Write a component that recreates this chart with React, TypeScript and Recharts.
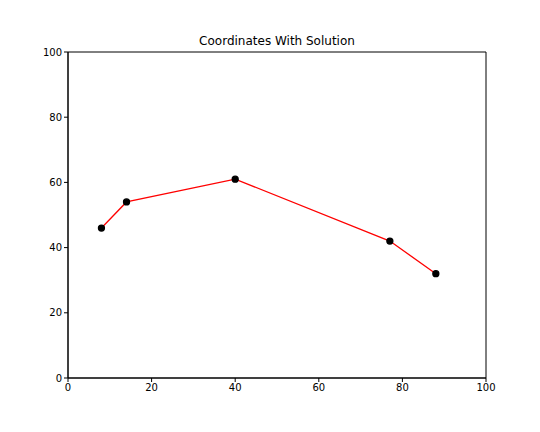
import React from 'react';
import { LineChart, Line, XAxis, YAxis, ReferenceArea } from 'recharts';

const xs = [8, 14, 40, 77, 88];
const ys = [46, 54, 61, 42, 32];
const ticks = [0, 20, 40, 60, 80, 100];

const data = xs.map((x, i) => ({ x, y: ys[i] }));

const font = { fontFamily: 'DejaVu Sans', fontSize: 10, fill: '#000' };

export default function App() {
  return (
    <div style={{ position: 'absolute', left: 0, top: 0, width: 540, height: 432, background: '#fff' }}>
      <div style={{ position: 'absolute', top: 34, left: 68, width: 418, textAlign: 'center', fontFamily: 'DejaVu Sans', fontSize: 12 }}>
        Coordinates With Solution
      </div>
      <LineChart width={540} height={432} data={data} margin={{ top: 52, right: 54, bottom: 24, left: 28 }}>
        <XAxis dataKey="x" type="number" domain={[0, 100]} ticks={ticks} stroke="#000" tickSize={4} tick={font} height={30} />
        <YAxis type="number" domain={[0, 100]} ticks={ticks} stroke="#000" tickSize={4} tick={font} width={40} />
        <ReferenceArea x1={0} x2={100} y1={0} y2={100} fill="none" stroke="#000" strokeWidth={1} ifOverflow="visible" />
        <Line
          dataKey="y"
          stroke="#ff0000"
          strokeWidth={1.3}
          isAnimationActive={false}
          dot={{ r: 3, fill: '#000', stroke: '#000' }}
        />
      </LineChart>
    </div>
  );
}
